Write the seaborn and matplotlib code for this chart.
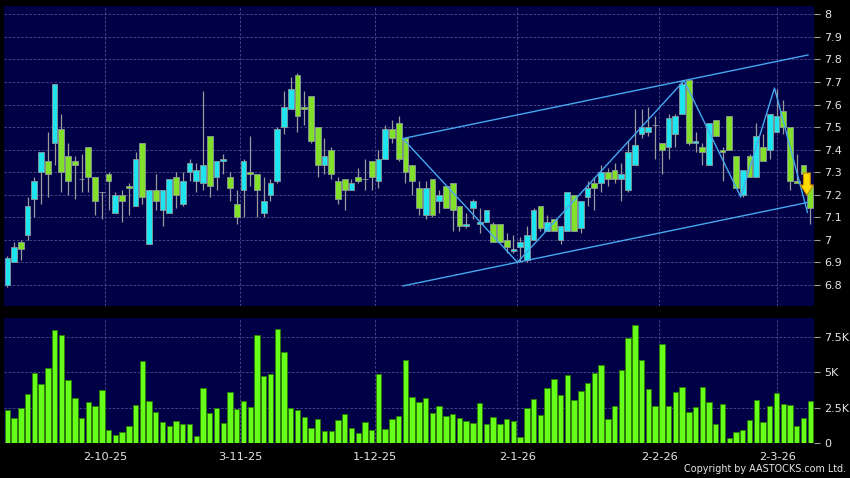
import numpy as np
import matplotlib
matplotlib.use("Agg")
import matplotlib.pyplot as plt
import seaborn as sns

# ===== data =====
opens = [6.80, 6.90, 6.99, 7.02, 7.18, 7.30, 7.35, 7.43, 7.49, 7.37,
         7.35, 7.27, 7.41, 7.28, 7.21, 7.29, 7.12, 7.20, 7.24, 7.15,
         7.43, 6.98, 7.22, 7.13, 7.12, 7.28, 7.16, 7.30, 7.26, 7.25,
         7.46, 7.28, 7.35, 7.28, 7.16, 7.22, 7.30, 7.29, 7.12, 7.20,
         7.26, 7.50, 7.58, 7.73, 7.59, 7.64, 7.50, 7.33, 7.40, 7.26,
         7.27, 7.22, 7.28, 7.27, 7.35, 7.26, 7.36, 7.49, 7.52, 7.45,
         7.33, 7.23, 7.11, 7.27, 7.17, 7.24, 7.25, 7.15, 7.06, 7.14,
         7.07, 7.08, 7.07, 7.07, 7.00, 6.95, 6.97, 6.91, 7.00, 7.15,
         7.04, 7.09, 7.00, 7.04, 7.20, 7.05, 7.19, 7.25, 7.25, 7.30,
         7.31, 7.27, 7.22, 7.33, 7.47, 7.48, 7.51, 7.43, 7.41, 7.47,
         7.56, 7.71, 7.43, 7.41, 7.33, 7.53, 7.40, 7.55, 7.37, 7.20,
         7.37, 7.28, 7.41, 7.40, 7.48, 7.57, 7.50, 7.26, 7.33, 7.24]
highs = [6.93, 6.99, 7.00, 7.19, 7.28, 7.39, 7.48, 7.69, 7.56, 7.43,
         7.37, 7.38, 7.41, 7.28, 7.21, 7.30, 7.21, 7.22, 7.25, 7.39,
         7.43, 7.22, 7.29, 7.22, 7.27, 7.30, 7.30, 7.36, 7.34, 7.66,
         7.46, 7.35, 7.38, 7.30, 7.22, 7.36, 7.46, 7.29, 7.28, 7.27,
         7.50, 7.66, 7.72, 7.74, 7.66, 7.64, 7.50, 7.45, 7.41, 7.28,
         7.27, 7.27, 7.32, 7.36, 7.35, 7.40, 7.51, 7.53, 7.55, 7.45,
         7.33, 7.26, 7.26, 7.27, 7.22, 7.24, 7.25, 7.15, 7.12, 7.18,
         7.14, 7.13, 7.08, 7.07, 7.03, 7.02, 7.01, 7.06, 7.14, 7.15,
         7.11, 7.09, 7.06, 7.21, 7.20, 7.17, 7.26, 7.28, 7.33, 7.32,
         7.34, 7.34, 7.44, 7.58, 7.58, 7.59, 7.55, 7.43, 7.56, 7.56,
         7.71, 7.71, 7.48, 7.43, 7.52, 7.53, 7.41, 7.55, 7.37, 7.31,
         7.38, 7.52, 7.47, 7.56, 7.67, 7.62, 7.50, 7.38, 7.33, 7.25]
lows = [6.79, 6.90, 6.91, 7.00, 7.10, 7.16, 7.19, 7.33, 7.21, 7.20,
        7.18, 7.21, 7.21, 7.11, 7.09, 7.13, 7.12, 7.08, 7.11, 7.15,
        7.16, 6.98, 7.13, 7.06, 7.12, 7.14, 7.15, 7.26, 7.21, 7.22,
        7.19, 7.22, 7.29, 7.17, 7.07, 7.10, 7.24, 7.10, 7.10, 7.17,
        7.25, 7.47, 7.58, 7.48, 7.51, 7.43, 7.28, 7.29, 7.27, 7.16,
        7.13, 7.22, 7.25, 7.22, 7.22, 7.23, 7.36, 7.43, 7.35, 7.25,
        7.20, 7.11, 7.09, 7.10, 7.12, 7.14, 7.04, 7.04, 7.05, 7.09,
        7.03, 7.08, 6.99, 6.99, 6.94, 6.94, 6.90, 6.90, 7.00, 7.04,
        7.04, 7.04, 6.98, 7.04, 7.04, 7.03, 7.15, 7.13, 7.21, 7.24,
        7.25, 7.17, 7.21, 7.33, 7.45, 7.46, 7.36, 7.29, 7.36, 7.41,
        7.56, 7.42, 7.39, 7.33, 7.33, 7.46, 7.26, 7.40, 7.23, 7.19,
        7.28, 7.28, 7.35, 7.36, 7.48, 7.47, 7.22, 7.25, 7.25, 7.07]
closes = [6.92, 6.97, 6.96, 7.15, 7.26, 7.39, 7.29, 7.69, 7.30, 7.26,
          7.33, 7.27, 7.28, 7.17, 7.21, 7.26, 7.20, 7.17, 7.23, 7.36,
          7.19, 7.22, 7.17, 7.22, 7.27, 7.20, 7.26, 7.34, 7.31, 7.33,
          7.24, 7.35, 7.36, 7.23, 7.10, 7.35, 7.29, 7.22, 7.17, 7.25,
          7.49, 7.59, 7.67, 7.55, 7.58, 7.44, 7.33, 7.37, 7.29, 7.18,
          7.22, 7.25, 7.26, 7.27, 7.28, 7.36, 7.49, 7.45, 7.36, 7.30,
          7.26, 7.14, 7.23, 7.11, 7.20, 7.14, 7.13, 7.06, 7.07, 7.17,
          7.08, 7.13, 6.99, 6.99, 6.97, 6.96, 6.99, 7.02, 7.13, 7.05,
          7.08, 7.04, 7.06, 7.21, 7.04, 7.17, 7.23, 7.23, 7.30, 7.27,
          7.27, 7.29, 7.39, 7.42, 7.50, 7.50, 7.51, 7.40, 7.54, 7.55,
          7.69, 7.43, 7.44, 7.39, 7.52, 7.46, 7.39, 7.40, 7.23, 7.31,
          7.28, 7.46, 7.35, 7.56, 7.55, 7.50, 7.26, 7.25, 7.29, 7.14]
# volume in thousands
volumes = [2.34, 1.82, 2.52, 3.48, 4.93, 4.16, 5.30, 7.94, 7.62, 4.44,
           3.22, 1.82, 2.94, 2.66, 3.74, 0.93, 0.63, 0.79, 1.26, 2.73,
           5.79, 3.01, 2.24, 1.50, 1.24, 1.61, 1.40, 1.40, 0.54, 3.86,
           2.13, 2.52, 1.47, 3.64, 2.41, 2.97, 2.55, 7.59, 4.74, 4.86,
           8.06, 6.43, 2.52, 2.34, 1.87, 1.12, 1.73, 0.91, 0.91, 1.66,
           2.06, 1.12, 0.77, 1.54, 0.98, 4.84, 1.00, 1.71, 1.94, 5.84,
           3.25, 2.90, 3.22, 2.13, 2.60, 1.92, 2.09, 1.78, 1.55, 1.43,
           2.86, 1.38, 1.83, 1.34, 1.73, 1.59, 0.45, 2.51, 3.12, 1.99,
           3.87, 4.55, 3.42, 4.83, 3.05, 3.70, 4.22, 4.92, 5.48, 1.73,
           2.65, 5.13, 7.38, 8.32, 5.86, 3.82, 2.62, 6.96, 2.65, 3.63,
           3.94, 2.18, 2.58, 3.98, 2.91, 1.38, 2.77, 0.35, 0.82, 0.94,
           1.62, 3.05, 1.52, 2.62, 3.56, 2.74, 2.67, 1.24, 1.78, 2.98]

date_pos = [14.5, 34.5, 54.5, 75.6, 96.6, 114.1]
date_labels = ["2-10-25", "3-11-25", "1-12-25", "2-1-26", "2-2-26", "2-3-26"]

# drawn trend channel / zigzag (bar index, price)
channel_x = [58.6, 118.7]
channel_top = [7.449, 7.82]
channel_bottom = [6.795, 7.166]
zigzag_x = [58.6, 75.6, 100.3, 108.7, 113.7, 118.6]
zigzag_y = [7.449, 6.90, 7.706, 7.19, 7.673, 7.12]

price_ticks = [6.8, 6.9, 7.0, 7.1, 7.2, 7.3, 7.4, 7.5, 7.6, 7.7, 7.8, 7.9, 8.0]
vol_ticks = [0, 2.5, 5, 7.5]

# ===== style =====
BG = "#000046"
CYAN = "#1ee4f0"
GREEN = "#82e02a"
VOL = "#66ff1a"
GRID = "#50508e"
TXT = "#e6e6e6"
LINE = "#46a8ee"

sns.set_style("dark")
plt.rcParams["font.family"] = ["DejaVu Sans"]

fig = plt.figure(figsize=(8.5, 4.78), dpi=100, facecolor="black")
ax = fig.add_axes([0.0047, 0.3598, 0.9533, 0.6276], facecolor=BG)
axv = fig.add_axes([0.0047, 0.0722, 0.9533, 0.2619], facecolor=BG)

idx = np.arange(len(opens))
o = np.array(opens)
c = np.array(closes)
up = c > o
down = c < o
body_col = np.where(up, CYAN, np.where(down, GREEN, "#b0b0b0"))

# wicks + bodies
ax.vlines(idx, lows, highs, color="#9a9a9a", lw=0.9, zorder=2)
ax.bar(idx, np.abs(c - o), bottom=np.minimum(o, c), width=0.85,
       color=body_col, edgecolor="#8c9a9a", linewidth=0.6, zorder=3)

# channel + zigzag
ax.plot(channel_x, channel_top, color=LINE, lw=1.0, zorder=4)
ax.plot(channel_x, channel_bottom, color=LINE, lw=1.0, zorder=4)
ax.plot(zigzag_x, zigzag_y, color=LINE, lw=1.0, zorder=4)

# last-bar arrow
ax.arrow(118.5, 7.296, 0, -0.098, width=1.0, head_width=1.95, head_length=0.045,
         length_includes_head=True, fc="#ffdc00", ec="#c88a00", lw=0.8, zorder=6)

# volume
sns.barplot(x=idx, y=volumes, ax=axv, color=VOL, saturation=1, width=0.8,
            edgecolor="#2c7a08", linewidth=0.7, native_scale=True, zorder=3)

for a in (ax, axv):
    a.set_xlim(-0.5, 119.6)
    a.set_xticks(date_pos)
    a.grid(True, color=GRID, linestyle=(0, (3, 2)), lw=0.6, zorder=0)
    a.set_axisbelow(True)
    for s in a.spines.values():
        s.set_visible(False)
    a.yaxis.tick_right()
    a.tick_params(axis="y", colors=TXT, labelsize=8, length=4, width=0.8,
                  pad=3, direction="out", labelcolor=TXT)
    a.tick_params(axis="y", color="#9a9a9a")
    a.set_xlabel("")
    a.set_ylabel("")

ax.set_ylim(6.706, 8.037)
ax.set_yticks(price_ticks)
ax.set_yticklabels([f"{t:g}" for t in price_ticks])
ax.tick_params(axis="x", length=0, labelbottom=False)

axv.set_ylim(0, 8.78)
axv.set_yticks(vol_ticks)
axv.set_yticklabels(["0" if t == 0 else f"{t:g}K" for t in vol_ticks])
axv.set_xticklabels(date_labels)
axv.tick_params(axis="x", colors="#9a9a9a", labelcolor=TXT, labelsize=8.2,
                length=3, width=0.8, pad=3)

fig.text(0.995, 0.008, "Copyright by AASTOCKS.com Ltd.", color=TXT,
         fontsize=6.9, ha="right", va="bottom")

fig.savefig("out.png", dpi=100, facecolor="black")
